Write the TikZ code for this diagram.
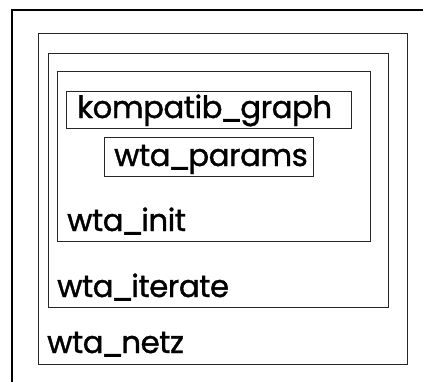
\documentclass[tikz,border=0pt]{standalone}
\usepackage{fontspec}
\setmainfont{Poppins}[FakeBold=1.2,LetterSpace=-1.5]
\newcommand{\usc}{\kern-2.4pt\_\kern-2.4pt}
\begin{document}
\begin{tikzpicture}[x=1pt,y=-1pt,
  box/.style={draw=black!85,line width=0.9pt,inner sep=0pt,anchor=north west},
  lbl/.style={anchor=base west,inner sep=0pt,font=\fontsize{30.8}{32}\selectfont}]
\useasboundingbox (0,0) rectangle (423,381);
\fill[white] (0,0) rectangle (423,381);
% outer frame (runs off the page right and bottom)
\coordinate (fa) at (12,390);
\coordinate (fb) at (12,10);
\coordinate (fc) at (430,10);
\draw[line width=1.8pt] (fa) -- (fb) -- (fc);
% boxes
\node[box,minimum width=369pt,minimum height=331pt] (netz) at (38,33) {};
\node[box,minimum width=340pt,minimum height=254pt] (iter) at (48,53) {};
\node[box,minimum width=313pt,minimum height=170pt] (init) at (57,71) {};
\node[box,minimum width=285pt,minimum height=37pt] (komp) at (66,91) {};
\node[box,minimum width=209pt,minimum height=39pt] (params) at (104,137) {};
% labels
\node[lbl] (tkomp) at (77,118) {kompatib\usc graph};
\node[lbl] (tparams) at (114,166) {wta\usc params};
\node[lbl] (tinit) at (67,231) {wta\usc init};
\node[lbl] (titer) at (57,297) {wta\usc iterate};
\node[lbl] (tnetz) at (47,353) {wta\usc netz};
\end{tikzpicture}
\end{document}
